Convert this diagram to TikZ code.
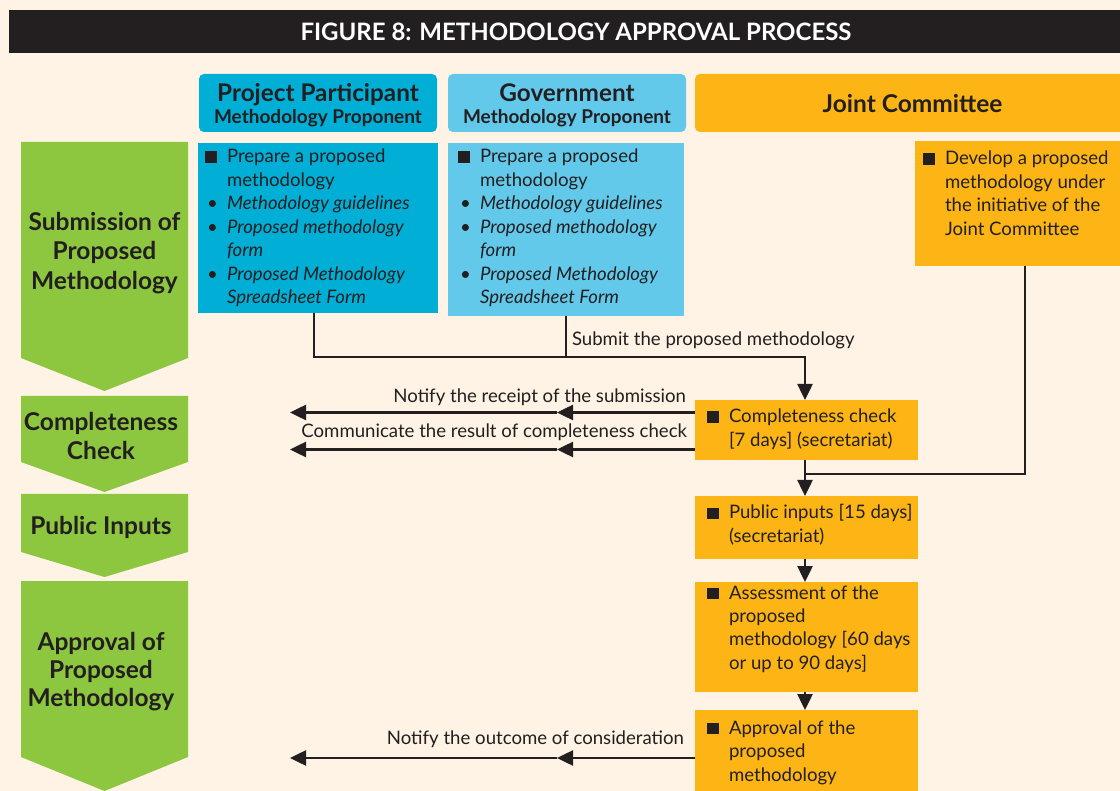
\documentclass[tikz,border=0pt]{standalone}
\usepackage{fontspec}
\setmainfont{Lato}
\usetikzlibrary{arrows.meta,calc}
\definecolor{bg}{HTML}{FEF3E4}
\definecolor{ink}{HTML}{231F20}
\definecolor{ppblue}{HTML}{00AED6}
\definecolor{govblue}{HTML}{62C9EB}
\definecolor{jcorange}{HTML}{FDB515}
\definecolor{stepgreen}{HTML}{8DC63F}
\newcommand\mysq{\makebox[22pt][l]{\rule{11.5pt}{11.5pt}}}
\newcommand\mybul{\makebox[22pt][l]{\hspace{2pt}\textbullet}}
\begin{document}
\begin{tikzpicture}[x=1pt,y=-1pt,
  boxnode/.style={anchor=north west,inner sep=0pt,outer sep=0pt,draw=none},
  hdr/.style={inner sep=0pt,outer sep=0pt,rounded corners=5pt,minimum width=238pt,minimum height=58pt},
  hdrtxt/.style={inner sep=0pt,align=center,text=ink,font=\bfseries\fontsize{19}{22}\selectfont},
  txt/.style={anchor=base west,inner sep=0pt,outer sep=0pt,text=ink,font=\fontsize{18.6}{23.5}\selectfont},
  lbl/.style={inner sep=0pt,outer sep=0pt,text=ink,font=\fontsize{18.6}{22}\selectfont},
  chev/.style={fill=stepgreen},
  chevtxt/.style={align=center,text=ink,inner sep=0pt,font=\bfseries\fontsize{24.5}{29.5}\selectfont},
  ln/.style={line width=2.5pt,draw=ink},
  arr/.style={line width=2.5pt,draw=ink,-{Triangle[length=16pt,width=15pt]}}]
\useasboundingbox (0,0) rectangle (1120,791);
\fill[bg] (0,0) rectangle (1120,791);
\clip (0,0) rectangle (1120,791);
% title
\fill[ink] (9,10) rectangle (1125,53);
\node[text=white,font=\bfseries\fontsize{24}{26}\selectfont] (title) at (576,32) {FIGURE 8: METHODOLOGY APPROVAL PROCESS};
% headers
\node[hdr,fill=ppblue] (hpp) at (318,103) {};
\node[hdrtxt] (hppt) at (318,105.5) {{\fontsize{24.3}{24}\selectfont Project Participant}\\Methodology Proponent};
\node[hdr,fill=govblue] (hgov) at (567,103) {};
\node[hdrtxt] (hgovt) at (567,105.5) {{\fontsize{24.3}{24}\selectfont Government}\\Methodology Proponent};
\node[hdr,fill=jcorange,minimum width=435pt] (hjc) at (912.5,103) {};
\node[hdrtxt,font=\bfseries\fontsize{24.5}{26}\selectfont] (hjct) at (912.5,104) {Joint Committee};
% content boxes
\node[boxnode,fill=ppblue,minimum width=240pt,minimum height=170pt] (pp) at (198,143) {};
\node[boxnode,fill=govblue,minimum width=236pt,minimum height=173pt] (gov) at (448,143) {};
\node[boxnode,fill=jcorange,minimum width=215pt,minimum height=125pt] (jc) at (915,141) {};
\node[boxnode,fill=jcorange,minimum width=223pt,minimum height=60pt] (cc) at (695,400) {};
\node[boxnode,fill=jcorange,minimum width=223pt,minimum height=63pt] (pi) at (695,496) {};
\node[boxnode,fill=jcorange,minimum width=223pt,minimum height=110pt] (as) at (695,582) {};
\node[boxnode,fill=jcorange,minimum width=223pt,minimum height=90pt] (ap) at (695,710) {};
% box texts
\node[txt] (ppt) at (205,163) {\begin{tabular}[t]{@{}l@{}l@{}}
\mysq & Prepare a proposed\\
 & methodology\\
\mybul & \textit{Methodology guidelines}\\
\mybul & \textit{Proposed methodology}\\
 & \textit{form}\\
\mybul & \textit{Proposed Methodology}\\
 & \textit{Spreadsheet Form}
\end{tabular}};
\node[txt] (govt) at (458,163) {\begin{tabular}[t]{@{}l@{}l@{}}
\mysq & Prepare a proposed\\
 & methodology\\
\mybul & \textit{Methodology guidelines}\\
\mybul & \textit{Proposed methodology}\\
 & \textit{form}\\
\mybul & \textit{Proposed Methodology}\\
 & \textit{Spreadsheet Form}
\end{tabular}};
\node[txt] (jct) at (923,165) {\begin{tabular}[t]{@{}l@{}l@{}}
\mysq & Develop a proposed\\
 & methodology under\\
 & the initiative of the\\
 & Joint Committee
\end{tabular}};
\node[txt] (cct) at (707,423) {\begin{tabular}[t]{@{}l@{}l@{}}
\mysq & Completeness check\\
 & [7 days] (secretariat)
\end{tabular}};
\node[txt] (pit) at (707,519) {\begin{tabular}[t]{@{}l@{}l@{}}
\mysq & Public inputs [15 days]\\
 & (secretariat)
\end{tabular}};
\node[txt] (ast) at (707,599) {\begin{tabular}[t]{@{}l@{}l@{}}
\mysq & Assessment of the\\
 & proposed\\
 & methodology [60 days\\
 & or up to 90 days]
\end{tabular}};
\node[txt] (apt) at (707,734) {\begin{tabular}[t]{@{}l@{}l@{}}
\mysq & Approval of the\\
 & proposed\\
 & methodology
\end{tabular}};
% chevrons
\fill[chev] (21,142) -- (188,142) -- (188,358) -- (104.5,391) -- (21,358) -- cycle;
\fill[chev] (21,396) -- (188,396) -- (188,462) -- (104.5,492) -- (21,462) -- cycle;
\fill[chev] (21,494) -- (188,494) -- (188,552) -- (104.5,577) -- (21,552) -- cycle;
\fill[chev] (21,581) -- (188,581) -- (188,757) -- (104.5,791) -- (21,757) -- cycle;
\node[chevtxt] (c1) at (104.5,253) {Submission of\\Proposed\\Methodology};
\node[chevtxt] (c2) at (101,436) {Completeness\\Check};
\node[chevtxt] (c3) at (101,527) {Public Inputs};
\node[chevtxt,font=\bfseries\fontsize{24.5}{28}\selectfont] (c4) at (101,672) {Approval of\\Proposed\\Methodology};
% connectors
\coordinate (j1) at (314,357);
\coordinate (j2) at (566,357);
\coordinate (j3) at (805,357);
\coordinate (j4) at (1025,474);
\coordinate (j5) at (805,474);
\draw[ln] (pp.south -| j1) -- (j1) -- (j2);
\draw[ln] (gov.south -| j2) -- (j2);
\draw[arr] (j2) -- (j3) -- (cc.north -| j3);
\draw[ln] (jc.south -| j4) -- (j4) -- (j5);
\draw[arr] (cc.south -| j3) -- (pi.north -| j3);
\draw[arr] (pi.south -| j3) -- (as.north -| j3);
\draw[arr] (as.south -| j3) -- (ap.north -| j3);
\node[lbl,anchor=base west] (l0) at (572,346) {Submit the proposed methodology};
% left arrows
\coordinate (a1) at (290,412.5);
\coordinate (m1) at (557,412.5);
\coordinate (a2) at (290,449.5);
\coordinate (m2) at (557,449.5);
\coordinate (a3) at (290,758);
\coordinate (m3) at (557,758);
\draw[arr] (cc.west |- a1) -- (m1);
\draw[arr] (m1) -- (a1);
\draw[arr] (cc.west |- a2) -- (m2);
\draw[arr] (m2) -- (a2);
\draw[arr] (ap.west |- a3) -- (m3);
\draw[arr] (m3) -- (a3);
\node[lbl,anchor=base east] (l1) at (686,403) {Notify the receipt of the submission};
\node[lbl,anchor=base east] (l2) at (687,438) {Communicate the result of completeness check};
\node[lbl,anchor=base east] (l3) at (684,744) {Notify the outcome of consideration};
\end{tikzpicture}
\end{document}
